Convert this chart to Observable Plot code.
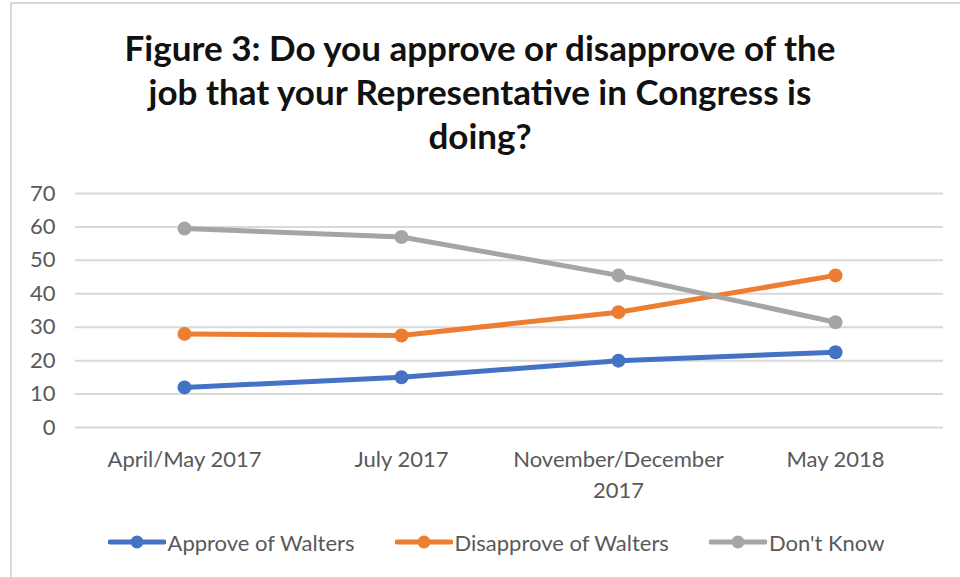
<!DOCTYPE html>
<html>
<head>
<meta charset="utf-8">
<script src="https://cdn.jsdelivr.net/npm/d3@7"></script>
<script src="https://cdn.jsdelivr.net/npm/@observablehq/plot@0.6"></script>
<style>
  html, body { margin: 0; padding: 0; background: #fff; }
  #wrap { position: relative; width: 960px; height: 577px; overflow: hidden; background: #fff; font-family: Lato, "Open Sans", sans-serif; }
  #frame { position: absolute; left: 10px; top: 2px; width: 960px; height: 600px; border-left: 2px solid #d9d9d9; border-top: 2px solid #d9d9d9; box-sizing: border-box; }
  #title { position: absolute; left: 0; top: 25px; width: 960px; text-align: center; font-weight: bold; font-size: 35px; line-height: 44px; color: #111; }
  #chart { position: absolute; left: 0; top: 175px; }
  #legend { position: absolute; left: 0; top: 527px; width: 960px; height: 30px; display: flex; justify-content: center; align-items: center; padding-left: 32px; box-sizing: border-box; gap: 40px; font-size: 22px; color: #595959; }
  .item { display: flex; align-items: center; }
  .item svg { margin-right: 2px; }
</style>
</head>
<body>
<div id="wrap">
  <div id="frame"></div>
  <div id="title">Figure 3: Do you approve or disapprove of the<br>job that your Representative in Congress is<br>doing?</div>
  <div id="chart"></div>
  <div id="legend"></div>
</div>
<script>
const months = ["April/May 2017", "July 2017", "November/December 2017", "May 2018"];
const series = ["Approve of Walters", "Disapprove of Walters", "Don't Know"];
const colors = ["#4472C4", "#ED7D31", "#A5A5A5"];
const approve = [12, 15, 20, 22.5];
const disapprove = [28, 27.5, 34.5, 45.5];
const dontKnow = [59.5, 57, 45.5, 31.5];
const yTicks = [0, 10, 20, 30, 40, 50, 60, 70];

const valuesBySeries = [approve, disapprove, dontKnow];
const data = [];
series.forEach((s, i) => {
  months.forEach((m, j) => data.push({series: s, month: m, value: valuesBySeries[i][j]}));
});

const chart = Plot.plot({
  width: 960,
  height: 340,
  marginTop: 18,
  marginBottom: 88,
  marginLeft: 75,
  marginRight: 17,
  style: {fontFamily: "Lato, 'Open Sans', sans-serif", fontSize: "22px", color: "#595959", background: "transparent"},
  x: {type: "point", domain: months, padding: 0.5},
  y: {domain: [0, 70]},
  color: {domain: series, range: colors},
  marks: [
    Plot.gridY(yTicks, {stroke: "#d9d9d9", strokeOpacity: 1, strokeWidth: 2}),
    Plot.axisY(yTicks, {tickSize: 0, tickPadding: 20, label: null, fill: "#595959", fontSize: 22}),
    Plot.axisX({tickSize: 0, tickPadding: 18, label: null, fill: "#595959", fontSize: 22, lineHeight: 1.4,
      tickFormat: d => d === "November/December 2017" ? "November/December\n2017" : d}),
    Plot.line(data, {x: "month", y: "value", stroke: "series", strokeWidth: 5, z: "series"}),
    Plot.dot(data, {x: "month", y: "value", fill: "series", r: 7})
  ]
});
document.getElementById("chart").appendChild(chart);

const legend = document.getElementById("legend");
series.forEach((s, i) => {
  const item = document.createElement("div");
  item.className = "item";
  item.innerHTML = `<svg width="58" height="16"><line x1="2" y1="8" x2="56" y2="8" stroke="${colors[i]}" stroke-width="5" stroke-linecap="round"/><circle cx="29" cy="8" r="6.5" fill="${colors[i]}"/></svg><span>${s}</span>`;
  legend.appendChild(item);
});
</script>
</body>
</html>
